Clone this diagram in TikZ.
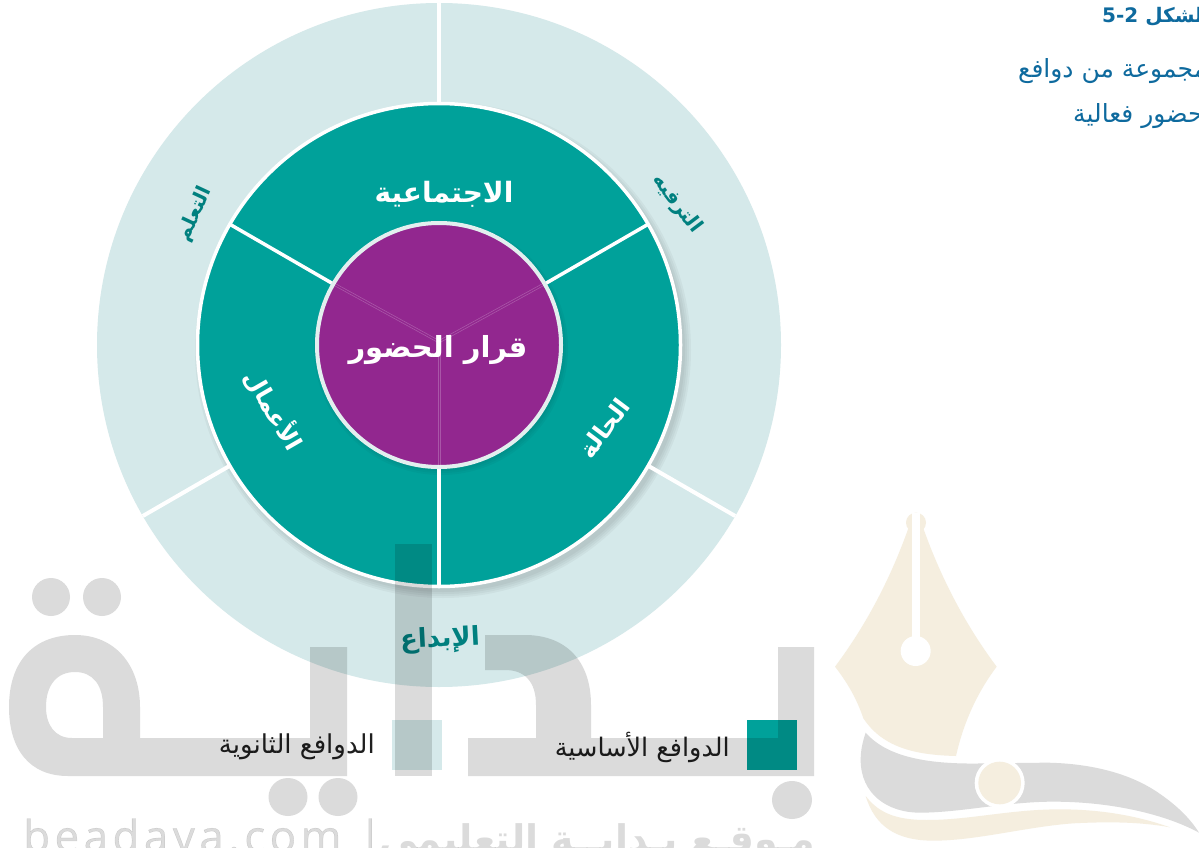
\documentclass[tikz,border=0pt]{standalone}
\usepackage{fontspec}
\usetikzlibrary{shapes.geometric}
\TeXXeTstate=1
\newfontfamily\arabicfont[Script=Arabic]{DejaVu Sans}
\newfontfamily\wmfont[LetterSpace=10,FakeBold=0.6]{Open Sans}
\newcommand{\artext}[1]{\arabicfont\beginR #1\endR}
\definecolor{ringlight}{HTML}{D5E9EA}
\definecolor{ringteal}{HTML}{00A19A}
\definecolor{labelteal}{HTML}{00807F}
\definecolor{beige}{HTML}{F5EEDF}
\definecolor{capblue}{HTML}{0E6A9E}
\definecolor{innerline}{HTML}{E3EFEF}
\definecolor{pcen}{HTML}{92278F}
\definecolor{pedge}{HTML}{B0238F}
\pgfdeclareradialshading{purplerad}{\pgfpoint{0bp}{0bp}}{
  color(0bp)=(pcen);
  color(39bp)=(pcen);
  color(50bp)=(pedge);
  color(100bp)=(pedge)}
\tikzset{
  disc/.style={circle,inner sep=0pt,outer sep=0pt},
  sepwhite/.style={draw=white,line width=#1},
  hair/.style={draw=white,opacity=.22,line width=.6pt},
  ringlabel/.style={font=\bfseries\fontsize{#1}{#1}\selectfont,inner sep=0pt},
  wmark/.style={fill=black,fill opacity=.14,draw=none},
  wmtext/.style={text=black,text opacity=.14,inner sep=0pt},
  swatch/.style={minimum size=50pt,inner sep=0pt,outer sep=0pt},
  legendtext/.style={font=\fontsize{#1}{#1}\selectfont,text=black!88,inner sep=0pt},
  caption/.style={text=capblue,inner sep=0pt}
}
\begin{document}
\begin{tikzpicture}[x=1pt,y=-1pt]
\useasboundingbox (0,0) rectangle (1199,848);
\clip (0,0) rectangle (1199,848);
\fill[white] (0,0) rectangle (1199,848);

% outer ring
\node[disc,fill=ringlight,minimum size=684pt] (outer) at (439,345) {};
% soft shadow of middle disc
\foreach \r in {248,246,244,242}{\fill[black,opacity=.035] (443,350) circle[radius=\r];}
\node[disc,fill=ringteal,draw=white,line width=3.5pt,minimum size=483pt] (mid) at (439,345) {};
% separators in outer ring
\draw[sepwhite=4pt] (outer.90) -- (mid.90);
\draw[sepwhite=4pt] (outer.210) -- (mid.210);
\draw[sepwhite=4pt] (outer.-30) -- (mid.-30);
% soft shadow of inner disc
\foreach \r in {127,125,123}{\fill[black,opacity=.03] (441,348) circle[radius=\r];}
% separators in middle ring
\node[disc,minimum size=244pt] (innerc) at (439,345) {};
\draw[sepwhite=3.5pt] (mid.150) -- (innerc.150);
\draw[sepwhite=3.5pt] (mid.30) -- (innerc.30);
\draw[sepwhite=3.5pt] (mid.-90) -- (innerc.-90);
% inner disc
\node[disc,shading=purplerad,draw=innerline,line width=4pt,minimum size=244pt] (inner) at (439,345) {};
\coordinate (hub) at (439,342);
\draw[hair] ([yshift=-1pt]inner.150) -- ([yshift=-1pt]hub);
\draw[hair] ([yshift=1.5pt]inner.150) -- ([yshift=1.5pt]hub);
\draw[hair] ([yshift=-1pt]inner.30) -- ([yshift=-1pt]hub);
\draw[hair] ([yshift=1.5pt]inner.30) -- ([yshift=1.5pt]hub);
\draw[hair] ([xshift=-1pt]inner.-90) -- ([xshift=-1pt]hub);
\draw[hair] ([xshift=1pt]inner.-90) -- ([xshift=1pt]hub);

% labels
\node[ringlabel=29,text=white] (center) at (438,350) {\artext{قرار الحضور}};
\node[ringlabel=28,text=white] (social) at (444,194) {\artext{الاجتماعية}};
\node[ringlabel=24,text=white,rotate=-60] (work) at (274,410) {\artext{الأعمال}};
\node[ringlabel=24,text=white,rotate=53] (state) at (604,428) {\artext{الحالة}};
\node[ringlabel=20,text=labelteal,rotate=65] (learn) at (195,214) {\artext{التعلم}};
\node[ringlabel=20,text=labelteal,rotate=-53] (fun) at (677,204) {\artext{الترفيه}};
\node[ringlabel=26,text=labelteal,rotate=3] (create) at (440,640) {\artext{الإبداع}};

% legend
\node[swatch,fill=ringteal] (swprimary) at (772,745) {};
\node[legendtext=25.5,anchor=east] (ltprimary) at (730,747) {\artext{الدوافع الأساسية}};
\node[swatch,fill=ringlight] (swsecondary) at (417,745) {};
\node[legendtext=26,anchor=east] (ltsecondary) at (375,747) {\artext{الدوافع الثانوية}};

% caption
\node[caption,anchor=base west,font=\bfseries\fontsize{20}{20}\selectfont] (cap1) at (1102,23) {\artext{الشكل \beginL 5-2\endL}};
\node[caption,anchor=base west,font=\fontsize{25}{25}\selectfont] (cap2) at (1018,78) {\artext{مجموعة من دوافع}};
\node[caption,anchor=base west,font=\fontsize{25}{25}\selectfont] (cap3) at (1073,123) {\artext{حضور فعالية}};

% logo: nib
\begin{scope}[shift={(820,500)},scale=1/3]
  \fill[beige] (288,68) circle[radius=30];
  \fill[beige] (265,85) .. controls (210,240) and (135,380) .. (45,500)
     .. controls (80,545) and (110,595) .. (130,655)
     .. controls (190,745) and (290,765) .. (408,768)
     .. controls (430,670) and (470,580) .. (530,500)
     .. controls (440,380) and (365,240) .. (310,85) -- cycle;
  \fill[white] (276,40) rectangle (300,430);
  \fill[white] (287,453) circle[radius=45];
  % swoosh
  \fill[black!14] (137,698) .. controls (200,770) and (320,795) .. (500,790)
     -- (680,788) .. controls (800,790) and (920,815) .. (1010,875)
     .. controls (1070,915) and (1110,955) .. (1137,998)
     .. controls (1040,945) and (880,905) .. (700,905)
     .. controls (560,905) and (420,938) .. (300,938)
     .. controls (200,938) and (122,880) .. (122,780)
     .. controls (122,750) and (128,725) .. (137,698) -- cycle;
  \fill[beige] (137,888) .. controls (180,945) and (240,960) .. (320,960)
     .. controls (450,960) and (570,928) .. (720,928)
     .. controls (850,928) and (960,950) .. (1050,982)
     .. controls (960,965) and (860,965) .. (760,970)
     .. controls (620,980) and (470,1022) .. (340,1022)
     .. controls (230,1022) and (165,980) .. (137,888) -- cycle;
  \fill[white] (539,849) circle[radius=75];
  \fill[beige] (539,849) circle[radius=64];
\end{scope}

% watermark letters
\fill[wmark,even odd rule]
  (9,707) .. controls (9,660) and (35,635) .. (75,635)
  .. controls (115,635) and (140,665) .. (140,707) -- (140,738) -- (310,738) -- (310,647) -- (347,647) -- (347,776) -- (68,776)
  .. controls (30,776) and (9,750) .. (9,707) -- cycle
  (46,707) .. controls (46,685) and (57,672) .. (75,672)
  .. controls (93,672) and (103,685) .. (103,707) -- (103,738) -- (72,738)
  .. controls (55,738) and (46,725) .. (46,707) -- cycle;
\fill[wmark] (395,544) rectangle (432,776);
\fill[wmark] (485,635) -- (525,635) .. controls (565,635) and (591,660) .. (591,705) -- (591,738) -- (778,738) -- (778,647) -- (814,647) -- (814,776) -- (468,776) -- (468,738) -- (536,738) -- (536,705) .. controls (536,682) and (525,670) .. (505,670) -- (485,670) -- cycle;
\fill[wmark] (51,597) ellipse[x radius=19,y radius=19];
\fill[wmark] (102,597) ellipse[x radius=19,y radius=19];
\fill[wmark] (288,797) ellipse[x radius=19.5,y radius=19];
\fill[wmark] (338,797) ellipse[x radius=19.5,y radius=19];
\fill[wmark] (792,800) ellipse[x radius=20,y radius=19];
\node[wmtext,anchor=base west,font=\wmfont\fontsize{44}{44}\selectfont] (wmlatin) at (23,852) {beadaya.com};
\node[wmtext,anchor=base west,font=\wmfont\fontsize{44}{44}\selectfont] (wmbar) at (358,852) {|};
\node[wmtext,anchor=base east,font=\bfseries\fontsize{38}{38}\selectfont] (wmarabic) at (815,852) {\artext{مـوقـع بـدايــة التعليمي}};
\end{tikzpicture}
\end{document}
